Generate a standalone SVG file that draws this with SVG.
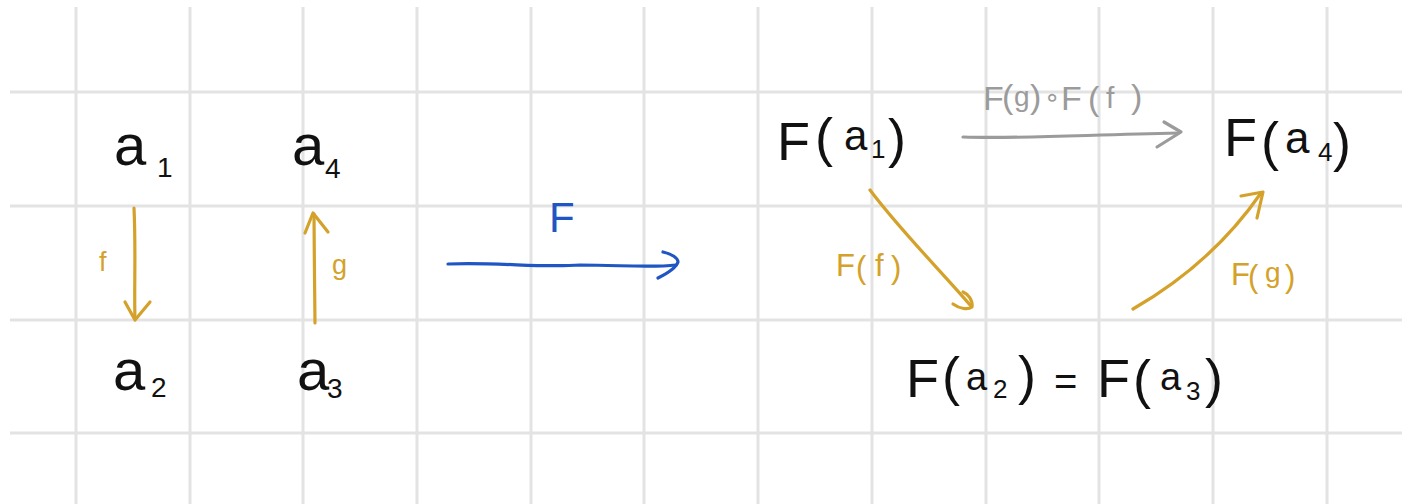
<svg xmlns="http://www.w3.org/2000/svg" width="1402" height="504" viewBox="0 0 1402 504">
<style>
.grid line{stroke:#e3e3e3;stroke-width:3}
text{font-family:"Liberation Sans","DejaVu Sans",sans-serif;}
.blk{fill:#111}
.gold{fill:#d4a22a}
.blue{fill:#1f56c3}
.gray{fill:#9b9b9b}
.c{fill:none;stroke-width:3.2;stroke-linecap:round;stroke-linejoin:round}
.cg{stroke:#d4a22a}
.cb{stroke:#1f56c3}
.cy{stroke:#9b9b9b}
</style>
<rect width="1402" height="504" fill="#ffffff"/>
<g class="grid">
<line x1="10" y1="92" x2="1402" y2="92"/>
<line x1="10" y1="206" x2="1402" y2="206"/>
<line x1="10" y1="320" x2="1402" y2="320"/>
<line x1="10" y1="433" x2="1402" y2="433"/>
<line x1="76" y1="7" x2="76" y2="504"/>
<line x1="190" y1="7" x2="190" y2="504"/>
<line x1="303" y1="7" x2="303" y2="504"/>
<line x1="417" y1="7" x2="417" y2="504"/>
<line x1="531" y1="7" x2="531" y2="504"/>
<line x1="644" y1="7" x2="644" y2="504"/>
<line x1="758" y1="7" x2="758" y2="504"/>
<line x1="872" y1="7" x2="872" y2="504"/>
<line x1="986" y1="7" x2="986" y2="504"/>
<line x1="1099" y1="7" x2="1099" y2="504"/>
<line x1="1213" y1="7" x2="1213" y2="504"/>
<line x1="1327" y1="7" x2="1327" y2="504"/>
</g>
<g id="connectors">
<g id="edge-f">
<path class="c cg" d="M134,208 C136,250 134,290 135,319"/>
<path class="c cg" d="M125,302 L135,320 L150,302"/>
<text class="gold" x="99" y="271" font-size="27">f</text>
</g>
<g id="edge-g">
<path class="c cg" d="M315,323 C315,290 314,250 314,214"/>
<path class="c cg" d="M305,233 L313,213 L328,232"/>
<text class="gold" x="332" y="274" font-size="27">g</text>
</g>
<g id="edge-functor">
<path class="c cb" d="M448,264 C500,262 540,268 580,265 C620,265 650,268 676,265"/>
<path class="c cb" d="M663,252 C672,254 678,258 678,262 C676,268 666,274 658,278"/>
<text class="blue" x="549" y="232" font-size="42">F</text>
</g>
<g id="edge-Fgf">
<path class="c cy" d="M963,137 C1020,139 1080,135 1178,133"/>
<path class="c cy" d="M1164,122 L1181,132 L1157,147"/>
<text class="gray" font-size="34"><tspan x="983" y="110">F</tspan><tspan x="1002" y="108">(</tspan><tspan x="1014" y="106" font-size="28">g</tspan><tspan x="1030" y="108">)</tspan><tspan x="1044" y="106" font-size="26">∘</tspan><tspan x="1061" y="110">F</tspan><tspan x="1088" y="110">(</tspan><tspan x="1106" y="108" font-size="30">f</tspan><tspan x="1131" y="108">)</tspan></text>
</g>
<g id="edge-Ff">
<path class="c cg" d="M870,190 C900,230 940,270 971,306"/>
<path class="c cg" d="M953,304 C960,309 968,310 972,307 C973,300 968,294 963,292"/>
<text class="gold" font-size="31"><tspan x="836" y="276">F</tspan><tspan x="856" y="278">(</tspan><tspan x="875" y="276">f</tspan><tspan x="891" y="278">)</tspan></text>
</g>
<g id="edge-Fg">
<path class="c cg" d="M1133,309 C1180,282 1225,245 1261,193"/>
<path class="c cg" d="M1241,196 L1263,192 L1257,218"/>
<text class="gold" font-size="31"><tspan x="1231" y="285">F</tspan><tspan x="1248" y="287">(</tspan><tspan x="1265" y="282" font-size="28">g</tspan><tspan x="1285" y="287">)</tspan></text>
</g>
</g>
<g id="node-a1">
<text class="blk" font-size="58"><tspan x="114" y="165">a</tspan><tspan x="157" y="177" font-size="28">1</tspan></text>
</g>
<g id="node-a4">
<text class="blk" font-size="58"><tspan x="292" y="165">a</tspan><tspan x="325" y="178" font-size="28">4</tspan></text>
</g>
<g id="node-a2">
<text class="blk" font-size="58"><tspan x="113" y="390">a</tspan><tspan x="151" y="397" font-size="28">2</tspan></text>
</g>
<g id="node-a3">
<text class="blk" font-size="58"><tspan x="297" y="390">a</tspan><tspan x="327" y="398" font-size="28">3</tspan></text>
</g>
<g id="node-Fa1">
<text class="blk" font-size="54"><tspan x="777" y="160">F</tspan><tspan x="815" y="156">(</tspan><tspan x="844" y="150" font-size="42">a</tspan><tspan x="871" y="158" font-size="26">1</tspan><tspan x="888" y="157">)</tspan></text>
</g>
<g id="node-Fa4">
<text class="blk" font-size="54"><tspan x="1224" y="156">F</tspan><tspan x="1261" y="160">(</tspan><tspan x="1285" y="153" font-size="44">a</tspan><tspan x="1318" y="161" font-size="26">4</tspan><tspan x="1333" y="161">)</tspan></text>
</g>
<g id="node-Fa2Fa3">
<text class="blk" font-size="54"><tspan x="906" y="397">F</tspan><tspan x="942" y="395">(</tspan><tspan x="966" y="390" font-size="38">a</tspan><tspan x="993" y="398" font-size="26">2</tspan><tspan x="1018" y="394">)</tspan><tspan x="1054" y="395" font-size="40">=</tspan><tspan x="1097" y="397">F</tspan><tspan x="1133" y="398">(</tspan><tspan x="1160" y="390" font-size="38">a</tspan><tspan x="1186" y="400" font-size="26">3</tspan><tspan x="1205" y="397">)</tspan></text>
</g>
</svg>
